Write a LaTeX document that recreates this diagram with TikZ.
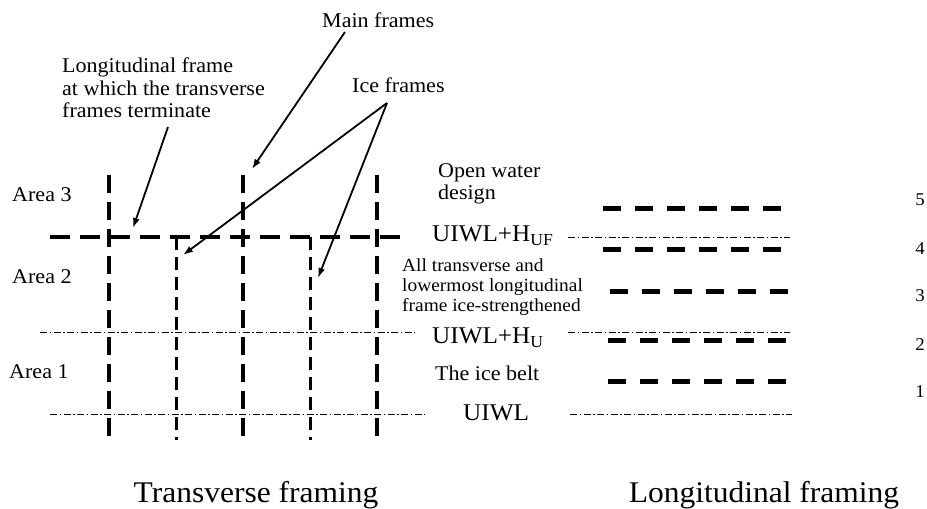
\documentclass[tikz,border=0pt]{standalone}
\usepackage{fontspec}
\setmainfont{Liberation Serif}[FakeStretch=1.05]
\usetikzlibrary{arrows.meta}
\tikzset{
  mainframe/.style={line width=4pt, dash pattern=on 18pt off 9pt},
  iceframe/.style={line width=3pt, dash pattern=on 13pt off 7pt},
  longframe/.style={line width=4pt, dash pattern=on 20pt off 10pt},
  wline/.style={line width=1pt, dash pattern=on 7pt off 2.5pt on 1.5pt off 2.5pt},
  lfdash/.style={line width=5pt, dash pattern=on 18pt off 14pt},
  lbl/.style={inner sep=0pt, anchor=west, align=left, font=\fontsize{21}{22.5}\selectfont},
  small/.style={inner sep=0pt, anchor=west, align=left, font=\fontsize{18.5}{20}\selectfont},
  wlbl/.style={inner sep=0pt, anchor=west, font=\fontsize{24}{26}\selectfont},
  num/.style={inner sep=0pt, font=\fontsize{18}{20}\selectfont},
  title/.style={inner sep=0pt, anchor=base, font=\fontsize{30}{32}\selectfont},
  ptr/.style={line width=1.8pt, -{Latex[length=10pt,width=7pt]}}
}
\begin{document}
\begin{tikzpicture}[x=1pt,y=-1pt]
\useasboundingbox (0,0) rectangle (927,509);

% ---- transverse framing ----
\draw[mainframe] (109,175) -- (109,438);
\draw[mainframe] (243,175) -- (243,438);
\draw[mainframe] (377,175) -- (377,438);
\draw[iceframe] (176,237) -- (176,440);
\draw[iceframe] (310,237) -- (310,440);
\draw[longframe] (50,237) -- (407,237);
\draw[wline] (40,332) -- (415,332);
\draw[wline] (50,414) -- (425,414);

\node[lbl] (a3) at (12,195) {Area 3};
\node[lbl] (a2) at (12,277) {Area 2};
\node[lbl] (a1) at (9,372) {Area 1};

\node[lbl] (lft) at (62,88) {Longitudinal frame\\at which the transverse\\frames terminate};
\node[lbl] (mft) at (322,20) {Main frames};
\node[lbl] (ift) at (352,85) {Ice frames};

\coordinate (lfs) at (168,127);
\coordinate (lfe) at (133,228);
\coordinate (mfs) at (345,32);
\coordinate (mfe) at (252,169);
\coordinate (ifs) at (387,103);
\coordinate (ife1) at (183,255);
\coordinate (ife2) at (318,278);
\draw[ptr] (lfs) -- (lfe);
\draw[ptr] (mfs) -- (mfe);
\draw[ptr] (ifs) -- (ife1);
\draw[ptr] (ifs) -- (ife2);

% ---- middle labels ----
\node[lbl] (ow) at (438,184) {Open water\\design};
\node[wlbl] (huf) at (432,236) {UIWL+H\textsubscript{UF}};
\node[small] (allt) at (402,287) {All transverse and\\lowermost longitudinal\\frame ice-strengthened};
\node[wlbl] (hu) at (432,338) {UIWL+H\textsubscript{U}};
\node[lbl] (ib) at (435,373) {The ice belt};
\node[wlbl] (uiwl) at (463,413) {UIWL};

% ---- longitudinal framing ----
\draw[wline] (568,237) -- (790,237);
\draw[wline] (568,332) -- (790,332);
\draw[wline] (570,414) -- (792,414);
\draw[lfdash] (603,208) -- (782,208);
\draw[lfdash] (603,249) -- (782,249);
\draw[lfdash] (610,291) -- (788,291);
\draw[lfdash] (608,340) -- (787,340);
\draw[lfdash] (608,381) -- (787,381);

\node[num] (n5) at (920,200) {5};
\node[num] (n4) at (920,249) {4};
\node[num] (n3) at (920,296) {3};
\node[num] (n2) at (920,345) {2};
\node[num] (n1) at (920,392) {1};

\node[title] (tt) at (256,502) {Transverse framing};
\node[title] (lt) at (764,502) {Longitudinal framing};
\end{tikzpicture}
\end{document}
